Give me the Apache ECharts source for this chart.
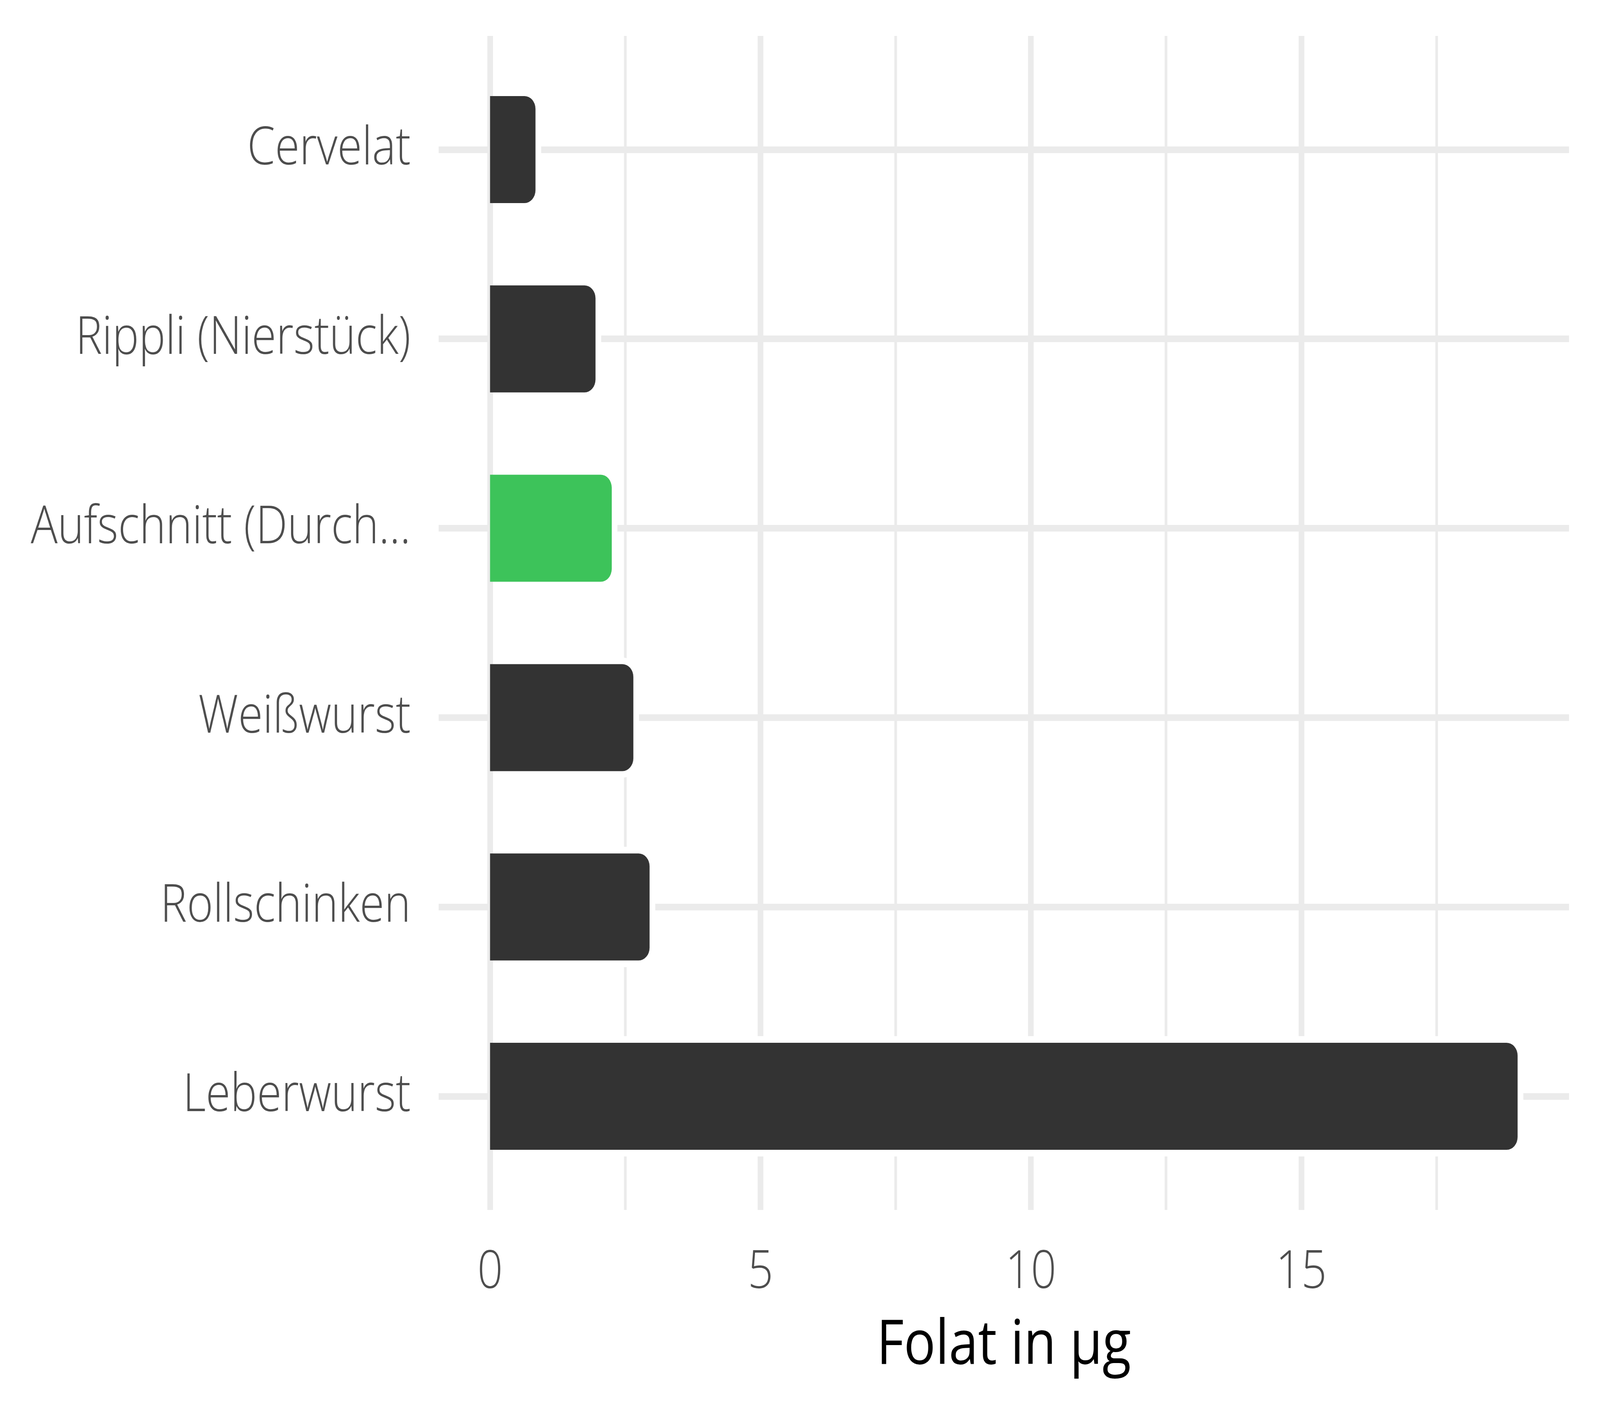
<!DOCTYPE html>
<html>
<head>
<meta charset="utf-8">
<script src="https://cdn.jsdelivr.net/npm/echarts@6/dist/echarts.min.js"></script>
<style>
  html, body { margin: 0; padding: 0; background: #ffffff; overflow: hidden; }
  #chart { width: 4800px; height: 3600px; position: absolute; left: 0; top: 0; transform-origin: 0 0; }
</style>
</head>
<body>
<div id="chart"></div>
<script>
// ---- data (top to bottom) ----
const categories = ['Cervelat', 'Rippli (Nierstück)', 'Aufschnitt (Durch...', 'Weißwurst', 'Rollschinken', 'Leberwurst'];
const values = [0.84, 1.95, 2.25, 2.65, 2.95, 19.0];
const highlightCategory = 'Aufschnitt (Durch...';
const xMajorTicks = [0, 5, 10, 15];
const xMinorTicks = [2.5, 7.5, 12.5, 17.5];
const xTitle = 'Folat in µg';
const xMin = -0.95, xMax = 19.95;

// ---- layout / style ----
const W = 4800, H = 3600;
const GRID_L = 1316, GRID_R = 93, A_TOP = 92, A_BOTTOM = 502;
const band = (H - A_TOP - A_BOTTOM) / (categories.length + 0.2);
const B_TOP = A_TOP + 0.1 * band;
const B_BOTTOM = A_BOTTOM + 0.1 * band;
const HALO = 17;
const GRID_COLOR = '#EBEBEB';
const DARK = '#333333';
const GREEN = '#3DC35A';
const TEXT = '#4D4D4D';
const FONT = 'Open Sans';

// fit the 4800x3600 drawing into the actual viewport
const el = document.getElementById('chart');
const sx = (window.innerWidth || W) / W, sy = (window.innerHeight || H) / H;
if (Math.abs(sx - 1) > 0.001 || Math.abs(sy - 1) > 0.001) {
  el.style.transform = 'scale(' + sx + ',' + sy + ')';
}

const chart = echarts.init(el, null, { renderer: 'canvas', devicePixelRatio: 1 });

const gridLineData = [];
xMinorTicks.forEach(v => gridLineData.push({ xAxis: v, lineStyle: { width: 8 } }));
xMajorTicks.forEach(v => gridLineData.push({ xAxis: v, lineStyle: { width: 17 } }));
categories.forEach((c, i) => gridLineData.push({ yAxis: categories.length - i, lineStyle: { width: 17 } }));

const option = {
  animation: false,
  backgroundColor: '#ffffff',
  grid: [
    { left: GRID_L, right: GRID_R, top: A_TOP, bottom: A_BOTTOM },
    { left: GRID_L, right: GRID_R, top: B_TOP, bottom: B_BOTTOM },
    { left: GRID_L + HALO, right: GRID_R - HALO, top: B_TOP, bottom: B_BOTTOM }
  ],
  xAxis: [
    {
      gridIndex: 0, type: 'value', min: xMin, max: xMax,
      axisLine: { show: false }, axisTick: { show: false }, splitLine: { show: false },
      axisLabel: {
        fontSize: 134, color: TEXT, fontFamily: FONT, fontWeight: 300, margin: 95,
        formatter: v => (xMajorTicks.indexOf(v) >= 0 ? String(v) : '')
      },
      name: xTitle, nameLocation: 'middle', nameGap: 270,
      nameTextStyle: { fontSize: 158, color: '#000000', fontFamily: FONT, fontWeight: 400 }
    },
    { gridIndex: 1, type: 'value', min: xMin, max: xMax, show: false },
    { gridIndex: 2, type: 'value', min: xMin, max: xMax, show: false }
  ],
  yAxis: [
    { gridIndex: 0, type: 'value', min: 0.4, max: categories.length + 0.6, show: false },
    {
      gridIndex: 1, type: 'category', data: categories, inverse: true,
      axisLine: { show: false }, axisTick: { show: false }, splitLine: { show: false },
      axisLabel: { fontSize: 134, color: TEXT, fontFamily: FONT, fontWeight: 300, margin: 84 }
    },
    { gridIndex: 2, type: 'category', data: categories, inverse: true, show: false }
  ],
  series: [
    {
      type: 'line', xAxisIndex: 0, yAxisIndex: 0, data: [], silent: true,
      markLine: {
        z: 0, silent: true, symbol: ['none', 'none'], label: { show: false }, animation: false,
        lineStyle: { color: GRID_COLOR, type: 'solid' },
        emphasis: { disabled: true },
        data: gridLineData
      }
    },
    {
      type: 'bar', xAxisIndex: 2, yAxisIndex: 2, data: values, silent: true, z: 3,
      barWidth: 274 + 2 * HALO,
      itemStyle: { color: '#ffffff', borderRadius: [0, 33 + HALO, 33 + HALO, 0] }
    },
    {
      type: 'bar', xAxisIndex: 1, yAxisIndex: 1, z: 4,
      barWidth: 274,
      data: values.map((v, i) => ({
        value: v,
        itemStyle: { color: categories[i] === highlightCategory ? GREEN : DARK }
      })),
      itemStyle: { borderRadius: [0, 33, 33, 0] }
    }
  ]
};
chart.setOption(option);
</script>
</body>
</html>
